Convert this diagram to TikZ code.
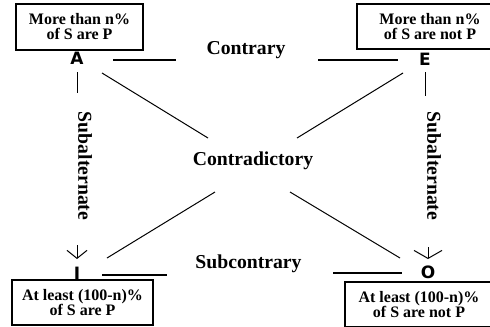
\documentclass[tikz,border=0pt]{standalone}
\usepackage{fontspec}
\setmainfont{Liberation Serif}
\setsansfont{DejaVu Sans}
\usetikzlibrary{arrows.meta}
\begin{document}
\begin{tikzpicture}[x=1bp,y=-1bp,
  box/.style={draw, line width=1.2bp, inner sep=0pt, align=center,
    font=\bfseries\fontsize{16bp}{15bp}\selectfont},
  lbl/.style={font=\bfseries\fontsize{19.7bp}{22bp}\selectfont, inner sep=0pt},
  corner/.style={font=\sffamily\bfseries\fontsize{17bp}{17bp}\selectfont, inner sep=0pt},
  ln/.style={line width=1bp},
  hln/.style={line width=1.3bp},
  barb/.style={line width=1bp, -{Straight Barb[length=8bp,width=20bp]}}]
\clip (0,0) rectangle (490,326);
% boxes
\node[box, minimum width=127bp, minimum height=46bp] (boxA) at (79.5,27) {More than n\%\\of S are P};
\node[box, minimum width=146bp, minimum height=45bp] (boxE) at (430,26.5) {More than n\%\\of S are not P};
\node[box, minimum width=141bp, minimum height=45bp] (boxI) at (82.5,302.5) {At least (100-n)\%\\of S are P};
\node[box, minimum width=148bp, minimum height=45bp] (boxO) at (419,304.5) {At least (100-n)\%\\of S are not P};
% corner letters
\node[corner] (A) at (77,58) {A};
\node[corner] (E) at (425,59) {E};
\node[corner] (I) at (77,273) {I};
\node[corner] (O) at (428,272) {O};
% labels
\node[lbl] (contrary) at (246,50) {Contrary};
\node[lbl] (contradictory) at (253,161) {Contradictory};
\node[lbl] (subcontrary) at (248.5,264) {Subcontrary};
\node[lbl, rotate=-90] (subaltL) at (85,166) {Subalternate};
\node[lbl, rotate=-90] (subaltR) at (434,166) {Subalternate};
% line end points
\coordinate (cA1) at (113,60); \coordinate (cA2) at (176,60);
\coordinate (cE1) at (318,60); \coordinate (cE2) at (398,60);
\coordinate (cI1) at (102,275); \coordinate (cI2) at (167,275);
\coordinate (cO1) at (333,273); \coordinate (cO2) at (402,273);
\coordinate (dUL1) at (102,73); \coordinate (dUL2) at (208,138);
\coordinate (dUR1) at (403,73); \coordinate (dUR2) at (297,138);
\coordinate (dLL1) at (215,192); \coordinate (dLL2) at (107,258);
\coordinate (dLR1) at (290,192); \coordinate (dLR2) at (400,258);
\coordinate (tL1) at (77,72); \coordinate (tL2) at (77,93);
\coordinate (tR1) at (425,72); \coordinate (tR2) at (425,96);
\coordinate (aL1) at (77,245); \coordinate (aL2) at (77,259);
\coordinate (aR1) at (428,247); \coordinate (aR2) at (428,259);
% horizontal lines
\draw[hln] (cA1) -- (cA2);
\draw[hln] (cE1) -- (cE2);
\draw[hln] (cI1) -- (cI2);
\draw[hln] (cO1) -- (cO2);
% diagonals
\draw[ln] (dUL1) -- (dUL2);
\draw[ln] (dUR1) -- (dUR2);
\draw[ln] (dLL1) -- (dLL2);
\draw[ln] (dLR1) -- (dLR2);
% vertical ticks
\draw[ln] (tL1) -- (tL2);
\draw[ln] (tR1) -- (tR2);
% arrows
\draw[barb] (aL1) -- (aL2);
\draw[barb, -{Straight Barb[length=8bp,width=28bp]}] (aR1) -- (aR2);
\end{tikzpicture}
\end{document}
